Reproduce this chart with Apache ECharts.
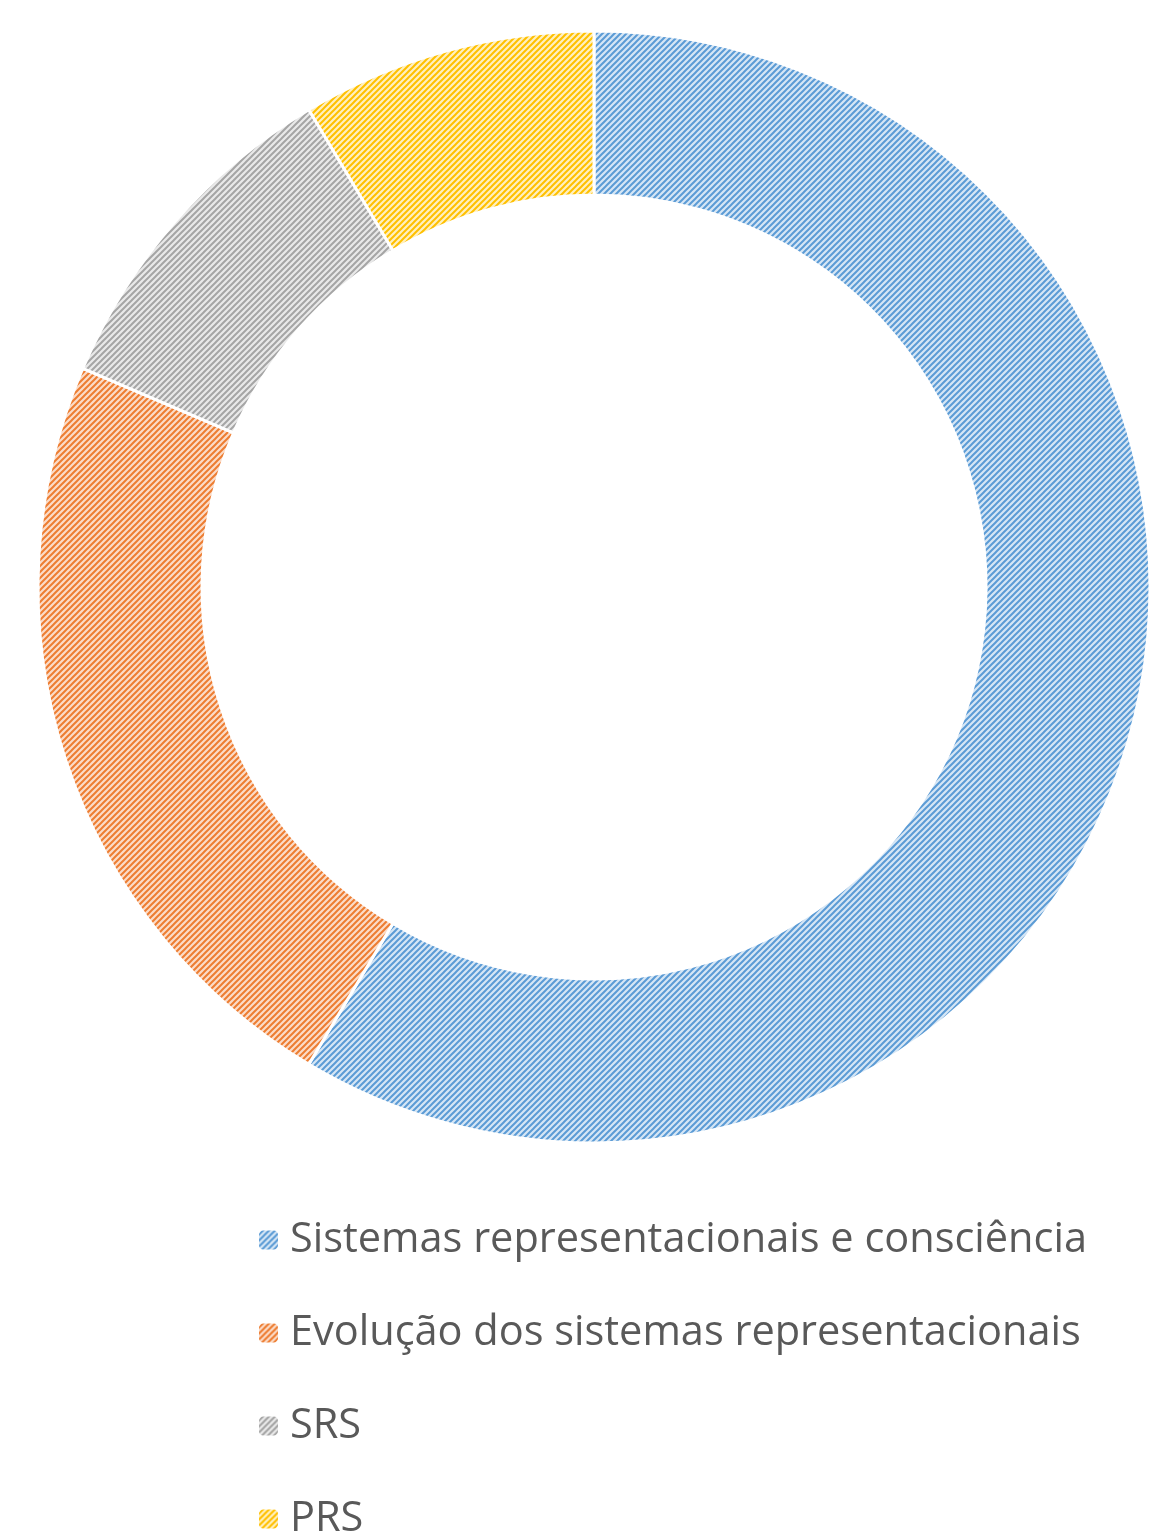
<!DOCTYPE html>
<html>
<head>
<meta charset="utf-8">
<script src="https://cdn.jsdelivr.net/npm/echarts@6/dist/echarts.min.js"></script>
<style>
  html, body { margin: 0; padding: 0; background: #fff; }
  #chart-pie { width: 1153px; height: 1533px; }
</style>
</head>
<body>
<div id="chart-pie"></div>
<script>
const categories = [
  'Sistemas representacionais e consciência',
  'Evolução dos sistemas representacionais',
  'SRS',
  'PRS'
];
const values = [41, 16, 7, 6];
const lineColors = ['#5B9BD5', '#ED7D31', '#A5A5A5', '#FFC000'];
const backColors = ['#D6E6F5', '#FBDCC8', '#E9E9E9', '#FFF0C0'];

// small hatch tile: light background with "/" diagonal lines
function makeHatch(line, back) {
  const size = 6;
  const c = document.createElement('canvas');
  c.width = size;
  c.height = size;
  const ctx = c.getContext('2d');
  ctx.fillStyle = back;
  ctx.fillRect(0, 0, size, size);
  ctx.strokeStyle = line;
  ctx.lineWidth = 2;
  ctx.beginPath();
  ctx.moveTo(-1, size + 1); ctx.lineTo(size + 1, -1);
  ctx.moveTo(-1, 1); ctx.lineTo(1, -1);
  ctx.moveTo(size - 1, size + 1); ctx.lineTo(size + 1, size - 1);
  ctx.stroke();
  return c;
}

const dom = document.getElementById('chart-pie');
const myChart = echarts.init(dom);

const option = {
  animation: false,
  legend: {
    orient: 'vertical',
    left: 252,
    top: 1214,
    height: 420,
    itemWidth: 21,
    itemHeight: 21,
    itemGap: 51,
    textStyle: {
      fontFamily: 'Open Sans',
      fontSize: 41.5,
      color: '#595959',
      padding: [0, 0, 0, 6]
    },
    data: categories
  },
  series: [
    {
      name: 'Temas',
      type: 'pie',
      center: [594, 587],
      radius: [392, 556],
      startAngle: 90,
      clockwise: true,
      label: { show: false },
      labelLine: { show: false },
      itemStyle: { borderColor: '#fff', borderWidth: 3 },
      data: categories.map((name, i) => ({
        name: name,
        value: values[i],
        itemStyle: {
          color: { image: makeHatch(lineColors[i], backColors[i]), repeat: 'repeat' }
        }
      }))
    }
  ]
};

option && myChart.setOption(option);
</script>
</body>
</html>
